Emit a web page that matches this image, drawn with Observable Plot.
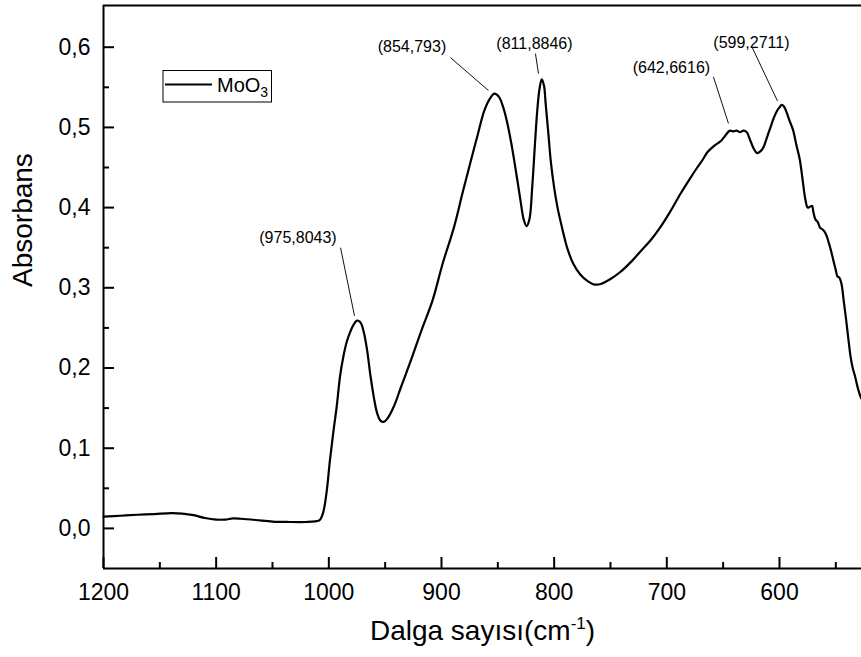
<!DOCTYPE html>
<html>
<head>
<meta charset="utf-8">
<script src="https://cdn.jsdelivr.net/npm/d3@7"></script>
<script src="https://cdn.jsdelivr.net/npm/@observablehq/plot@0.6"></script>
<style>
  body { margin: 0; background: #fff; }
  #chart { width: 861px; height: 657px; }
</style>
</head>
<body>
<div id="chart"></div>
<script>
// ---- data ----
const wavenumber = [
  1200, 1185, 1170, 1155, 1140, 1130, 1120, 1110, 1100, 1092, 1085, 1078, 1065, 1050, 1035, 1020,
  1012, 1008, 1005, 1002, 999, 996, 993, 990, 987, 984, 981, 978, 975, 972, 969, 966, 963, 960,
  957, 954, 951, 948, 942, 936, 927, 918, 908, 899, 889, 881, 874, 868, 862, 857, 853, 849, 845,
  842, 838, 834, 830, 827, 824.5, 822, 819.5, 817, 815, 813, 811, 809, 807.5, 805, 803, 800, 797,
  793, 788.5, 783, 777, 770, 764, 758, 750, 741, 732, 723, 714, 706, 697, 688, 680, 673, 668, 664,
  658, 652, 648, 644, 641, 638, 635, 632, 629, 626, 623, 620, 617, 614, 611, 608, 605, 602, 600,
  598, 596, 594, 591, 588, 585, 582, 579.5, 577, 575, 573, 571, 570, 568, 566, 564, 562, 560, 558,
  556, 554, 552, 550, 548.5, 547, 545, 543, 541, 539, 537, 535, 533, 531, 529, 527.5
];
const absorbance = [
  0.0146, 0.0158, 0.017, 0.0178, 0.019, 0.0185, 0.0165, 0.013, 0.011, 0.011, 0.0125, 0.012, 0.0105, 0.0085, 0.008, 0.008,
  0.0088, 0.0105, 0.02, 0.045, 0.085, 0.12, 0.152, 0.19, 0.215, 0.233, 0.245, 0.254, 0.259, 0.257, 0.245, 0.222, 0.19, 0.163,
  0.143, 0.134, 0.133, 0.137, 0.153, 0.176, 0.21, 0.246, 0.284, 0.33, 0.375, 0.42, 0.458, 0.49, 0.521, 0.536, 0.542, 0.538, 0.524,
  0.508, 0.48, 0.446, 0.41, 0.385, 0.377, 0.385, 0.425, 0.48, 0.521, 0.548, 0.56, 0.552, 0.529, 0.49, 0.458, 0.425, 0.4,
  0.375, 0.35, 0.33, 0.317, 0.308, 0.304, 0.305, 0.311, 0.32, 0.332, 0.346, 0.36, 0.375, 0.395, 0.417, 0.435, 0.45, 0.46, 0.469,
  0.477, 0.483, 0.49, 0.496, 0.495, 0.496, 0.494, 0.496, 0.494, 0.484, 0.474, 0.468, 0.47, 0.476, 0.488, 0.5, 0.512, 0.521, 0.525,
  0.528, 0.526, 0.52, 0.508, 0.497, 0.478, 0.46, 0.435, 0.41, 0.4, 0.401, 0.402, 0.395, 0.385, 0.382, 0.375, 0.373, 0.37, 0.364,
  0.355, 0.345, 0.333, 0.322, 0.314, 0.313, 0.305, 0.284, 0.262, 0.238, 0.215, 0.2, 0.19, 0.178, 0.168, 0.162
];

const peakLabels = ["(975,8043)", "(854,793)", "(811,8846)", "(642,6616)", "(599,2711)"];

const xTicks = [1200, 1100, 1000, 900, 800, 700, 600];
const xMinorTicks = [1150, 1050, 950, 850, 750, 650, 550];
const yTicks = [0, 0.1, 0.2, 0.3, 0.4, 0.5, 0.6];
const yMinorTicks = [0.05, 0.15, 0.25, 0.35, 0.45, 0.55];
const xDomain = [1200, 527.2];
const yDomain = [-0.05, 0.652];

const xTitle = "Dalga sayısı(cm-1)";
const xTitleParts = ["Dalga sayısı(cm", "-1", ")"];
const yTitle = "Absorbans";
const seriesName = ["MoO", "3"];

// ---- annotation layout (label centre, leader start, leader end; data units) ----
const labelAt  = [[1027.4, 0.362], [926.2, 0.600], [817.5, 0.604], [695.9, 0.574], [624.9, 0.605]];
const leaderA  = [[989.6, 0.350], [892.0, 0.587], [816.6, 0.592], [658.6, 0.563], [624.0, 0.599]];
const leaderB  = [[977.2, 0.265], [858.3, 0.546], [813.9, 0.567], [645.3, 0.505], [601.8, 0.533]];

const spectrum = wavenumber.map((w, i) => ({w, a: absorbance[i]}));
const notes = peakLabels.map((label, i) => ({
  label,
  lx: labelAt[i][0], ly: labelAt[i][1],
  x1: leaderA[i][0], y1: leaderA[i][1],
  x2: leaderB[i][0], y2: leaderB[i][1]
}));

// ---- layout ----
const W = 861, H = 657, mL = 103, mR = 0, mT = 5, mB = 89;
const frameW = W - mL - mR, frameH = H - mT - mB;
const majorLen = 11, minorLen = 6;

const font = "'Liberation Sans', Arial, Helvetica, sans-serif";
const fmtY = d => d.toFixed(1).replace(".", ",");

const plot = Plot.plot({
  width: W,
  height: H,
  marginLeft: mL,
  marginRight: mR,
  marginTop: mT,
  marginBottom: mB,
  style: {fontFamily: font, background: "white", color: "black"},
  x: {domain: xDomain},
  y: {domain: yDomain},
  marks: [
    Plot.line(spectrum, {x: "w", y: "a", stroke: "black", strokeWidth: 2.2, curve: "catmull-rom"}),
    Plot.link(notes, {x1: "x1", y1: "y1", x2: "x2", y2: "y2", stroke: "#111", strokeWidth: 1}),
    Plot.text(notes, {x: "lx", y: "ly", text: "label", fontSize: 16, fill: "black"}),
    // inward ticks
    Plot.ruleX(xTicks, {x: d => d, insetTop: frameH - majorLen, stroke: "black", strokeWidth: 2}),
    Plot.ruleX(xMinorTicks, {x: d => d, insetTop: frameH - minorLen, stroke: "black", strokeWidth: 2}),
    Plot.ruleY(yTicks, {y: d => d, insetRight: frameW - majorLen, stroke: "black", strokeWidth: 2}),
    Plot.ruleY(yMinorTicks, {y: d => d, insetRight: frameW - minorLen, stroke: "black", strokeWidth: 2}),
    // axis lines (left, bottom, top)
    Plot.ruleX([xDomain[0]], {stroke: "black", strokeWidth: 2}),
    Plot.ruleY([yDomain[0]], {stroke: "black", strokeWidth: 2}),
    Plot.ruleY([yDomain[1]], {stroke: "black", strokeWidth: 2}),
    Plot.axisX(xTicks, {anchor: "bottom", tickSize: 0, tickPadding: 15, fontSize: 23, label: null, tickFormat: d => String(d)}),
    Plot.axisY(yTicks, {anchor: "left", tickSize: 0, tickPadding: 13, fontSize: 23, label: null, tickFormat: fmtY}),
    Plot.text([xTitle], {frameAnchor: "bottom", dy: 71, fontSize: 28, fill: "black"}),
    Plot.text([yTitle], {frameAnchor: "left", dx: -80, rotate: -90, fontSize: 28, fill: "black"})
  ]
});

document.getElementById("chart").appendChild(plot);

// superscript in x title
d3.select(plot).selectAll("text").each(function() {
  if (this.textContent === xTitle) {
    const t = d3.select(this);
    t.text(null);
    t.append("tspan").text(xTitleParts[0]);
    t.append("tspan").attr("font-size", 17).attr("dy", -11).text(xTitleParts[1]);
    t.append("tspan").attr("dy", 11).text(xTitleParts[2]);
  }
});

// legend box
const lg = d3.select(plot).append("g");
lg.append("rect").attr("x", 163).attr("y", 70.5).attr("width", 108.5).attr("height", 31.5)
  .attr("fill", "white").attr("stroke", "black").attr("stroke-width", 1);
lg.append("line").attr("x1", 165).attr("x2", 212).attr("y1", 84.5).attr("y2", 84.5)
  .attr("stroke", "black").attr("stroke-width", 2);
const lt = lg.append("text").attr("x", 217).attr("y", 92).attr("font-size", 20)
  .attr("font-family", font).attr("fill", "black").attr("text-anchor", "start");
lt.append("tspan").text(seriesName[0]);
lt.append("tspan").attr("font-size", 14).attr("dy", 5).text(seriesName[1]);
</script>
</body>
</html>
